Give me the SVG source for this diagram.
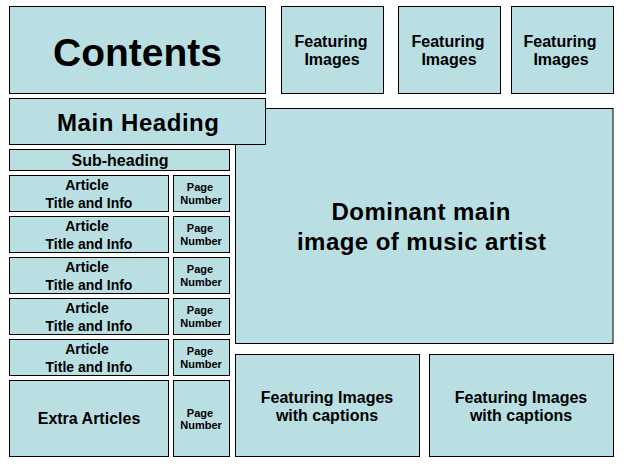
<svg xmlns="http://www.w3.org/2000/svg" width="629" height="467" viewBox="0 0 629 467">
<style>
rect.b{fill:#BADFE3;stroke:#000;stroke-width:1}
text{font-family:"Liberation Sans",Arial,sans-serif;font-weight:bold;fill:#000;text-anchor:middle}
.s40{font-size:39px}
.s24{font-size:24px}
.s16{font-size:16px}
.s14{font-size:14px}
.s11{font-size:11px}
</style>
<rect width="629" height="467" fill="#fff"/>
<g id="contents"><rect class="b" x="9.5" y="6.5" width="256" height="87"/><text class="s40" x="137.5" y="65.5">Contents</text></g>
<g id="feat1"><rect class="b" x="281.5" y="6.5" width="102" height="87"/><text class="s16" x="331" y="46.5">Featuring</text><text class="s16" x="332" y="65">Images</text></g>
<g id="feat2"><rect class="b" x="398.5" y="6.5" width="102" height="87"/><text class="s16" x="448" y="46.5">Featuring</text><text class="s16" x="449" y="65">Images</text></g>
<g id="feat3"><rect class="b" x="511.5" y="6.5" width="102" height="87"/><text class="s16" x="560" y="46.5">Featuring</text><text class="s16" x="561" y="65">Images</text></g>
<g id="mainimage"><rect class="b" x="235.5" y="108.5" width="377.5" height="235"/><text class="s24" x="421" y="219.5" textLength="179" lengthAdjust="spacing">Dominant main</text><text class="s24" x="421.5" y="250" textLength="249" lengthAdjust="spacing">image of music artist</text></g>
<g id="mainheading"><rect class="b" x="9.5" y="98.5" width="256" height="46"/><text class="s24" x="138" y="131" textLength="162" lengthAdjust="spacing">Main Heading</text></g>
<g id="subheading"><rect class="b" x="9.5" y="149.5" width="220" height="21"/><text class="s16" x="120" y="165.5">Sub-heading</text></g>
<g id="article1"><rect class="b" x="9.5" y="175.5" width="159" height="36"/><text class="s14" x="87" y="190">Article</text><text class="s14" x="89" y="207.5">Title and Info</text></g>
<g id="page1"><rect class="b" x="173.5" y="175.5" width="56" height="36"/><text class="s11" x="200" y="191">Page</text><text class="s11" x="201" y="203.5">Number</text></g>
<g id="article2"><rect class="b" x="9.5" y="216.5" width="159" height="36"/><text class="s14" x="87" y="231">Article</text><text class="s14" x="89" y="248.5">Title and Info</text></g>
<g id="page2"><rect class="b" x="173.5" y="216.5" width="56" height="36"/><text class="s11" x="200" y="232">Page</text><text class="s11" x="201" y="244.5">Number</text></g>
<g id="article3"><rect class="b" x="9.5" y="257.5" width="159" height="36"/><text class="s14" x="87" y="272">Article</text><text class="s14" x="89" y="289.5">Title and Info</text></g>
<g id="page3"><rect class="b" x="173.5" y="257.5" width="56" height="36"/><text class="s11" x="200" y="273">Page</text><text class="s11" x="201" y="285.5">Number</text></g>
<g id="article4"><rect class="b" x="9.5" y="298.5" width="159" height="36"/><text class="s14" x="87" y="313">Article</text><text class="s14" x="89" y="330.5">Title and Info</text></g>
<g id="page4"><rect class="b" x="173.5" y="298.5" width="56" height="36"/><text class="s11" x="200" y="314">Page</text><text class="s11" x="201" y="326.5">Number</text></g>
<g id="article5"><rect class="b" x="9.5" y="339.5" width="159" height="36"/><text class="s14" x="87" y="354">Article</text><text class="s14" x="89" y="371.5">Title and Info</text></g>
<g id="page5"><rect class="b" x="173.5" y="339.5" width="56" height="36"/><text class="s11" x="200" y="355">Page</text><text class="s11" x="201" y="367.5">Number</text></g>
<g id="extra"><rect class="b" x="9.5" y="380.5" width="159" height="76"/><text class="s16" x="89" y="424">Extra Articles</text></g>
<g id="page6"><rect class="b" x="173.5" y="380.5" width="56" height="76"/><text class="s11" x="200" y="416.5">Page</text><text class="s11" x="201" y="429">Number</text></g>
<g id="captions1"><rect class="b" x="235.5" y="354.5" width="184" height="102"/><text class="s16" x="327" y="402.5">Featuring Images</text><text class="s16" x="327" y="421">with captions</text></g>
<g id="captions2"><rect class="b" x="429.5" y="354.5" width="184" height="102"/><text class="s16" x="521" y="402.5">Featuring Images</text><text class="s16" x="521" y="421">with captions</text></g>
</svg>
